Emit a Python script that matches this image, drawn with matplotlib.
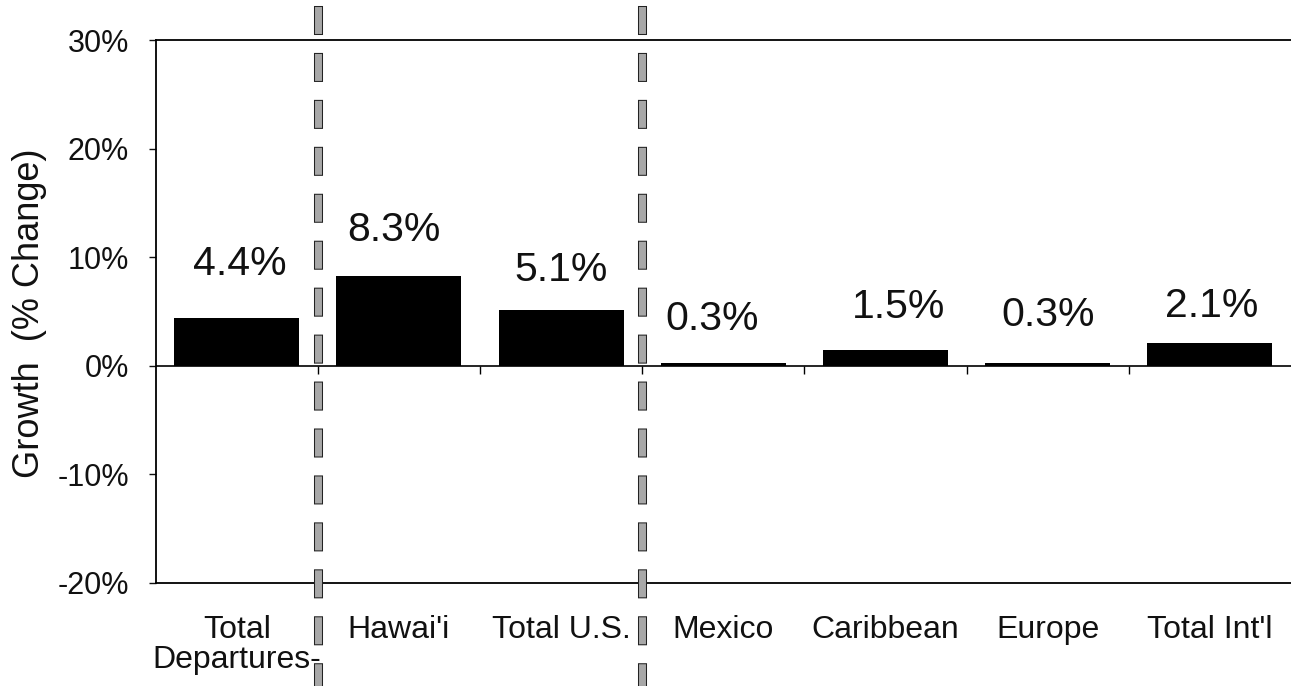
import matplotlib
matplotlib.use('Agg')
import matplotlib.pyplot as plt
import matplotlib.patheffects as pe
from matplotlib.lines import Line2D
import numpy as np

plt.rcParams['font.family'] = ['Liberation Sans', 'DejaVu Sans']
plt.rcParams['lines.scale_dashes'] = False

# growth by destination
cats = ['Total\nDepartures-', "Hawai'i", 'Total U.S.', 'Mexico', 'Caribbean', 'Europe', "Total Int'l"]
growth = [4.4, 8.3, 5.1, 0.3, 1.5, 0.3, 2.1]
labels = ['4.4%', '8.3%', '5.1%', '0.3%', '1.5%', '0.3%', '2.1%']

# where the value labels sit (y in %, small x nudges in category units)
label_y = [9.4, 12.5, 8.8, 4.3, 5.4, 4.7, 5.5]
label_dx = [0.02, -0.03, 0.0, -0.07, 0.08, 0.0, 0.01]

# group separators sit between categories
sep_at = [0.5, 2.5]

fig = plt.figure(figsize=(12.91, 6.86), dpi=100)
fig.set_facecolor('w')
ax = fig.add_axes([155.6 / 1291, 103 / 686, (1291 - 155.6) / 1291, 543 / 686])

x = np.arange(len(cats))
ax.bar(x, growth, width=0.77, color='black', zorder=3)
ax.axhline(0, color='black', lw=1.2, zorder=4)

for xi, txt, ly, dx in zip(x, labels, label_y, label_dx):
    ax.text(xi + dx, ly, txt, ha='center', va='center', fontsize=29.5, color='#111111')

ax.set_xlim(-0.5, len(cats) - 0.5)
ax.set_ylim(-20, 30)
ax.set_yticks([-20, -10, 0, 10, 20, 30])
ax.set_yticklabels(['-20%', '-10%', '0%', '10%', '20%', '30%'])
ax.tick_params(axis='y', length=5, width=1, pad=14, labelsize=22, colors='#111111')

ax.set_xticks(x)
ax.set_xticklabels(cats, fontsize=23, color='#111111', linespacing=1.0)
ax.tick_params(axis='x', length=0, pad=23)

# tick marks on the zero line between categories
zx = ax.secondary_xaxis(0.4)
zx.set_xticks(np.arange(len(cats) - 1) + 0.5)
zx.set_xticklabels([])
zx.tick_params(length=6, width=1, direction='out')
zx.spines['bottom'].set_visible(False)

for s in ['left', 'top', 'bottom']:
    ax.spines[s].set_linewidth(1.3)
ax.spines['right'].set_visible(False)

fig.text(30 / 1291, 1 - 313 / 686, 'Growth  (% Change)', rotation=90,
         ha='center', va='center', fontsize=26, color='#111111')

# dashed separators running through the whole figure height
for sx in sep_at:
    xf = ax.transData.transform((sx, 0))[0] / fig.bbox.width
    ln = Line2D([xf, xf], [1 - 10 / 686, 1 - 682 / 686], transform=fig.transFigure,
                color='#a8a8a8', lw=5, dashes=(14.4, 19.4), solid_capstyle='projecting',
                dash_capstyle='projecting', zorder=10)
    ln.set_path_effects([pe.Stroke(linewidth=6.5, foreground='#222222'), pe.Normal()])
    fig.lines.append(ln)

fig.savefig('out.png', dpi=100, facecolor='w')
